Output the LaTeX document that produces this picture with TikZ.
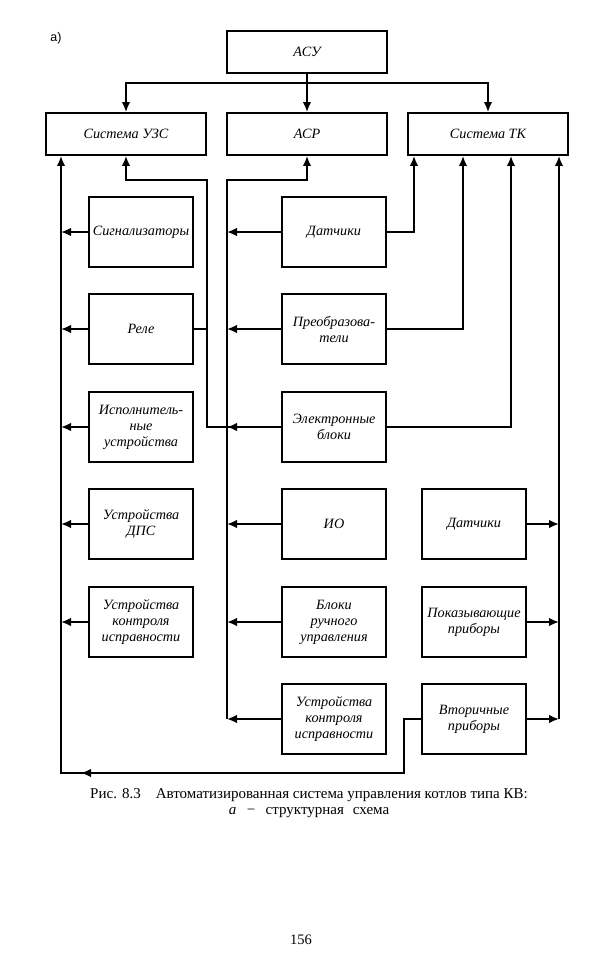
\documentclass[tikz,border=0pt]{standalone}
\usepackage{fontspec}
\setmainfont{Liberation Serif}
\newfontfamily\sansf{Liberation Sans}
\usetikzlibrary{arrows.meta}
\begin{document}
\begin{tikzpicture}[x=1pt,y=-1pt,
 box/.style={draw,line width=1.8pt,inner sep=1pt,align=center,font=\fontsize{14.2}{16}\selectfont\itshape},
 bl/.style={box,minimum width=104pt,minimum height=70pt},
 ln/.style={line width=1.8pt},
 arr/.style={ln,-{Latex[length=10pt,width=8.5pt]}}]
\useasboundingbox (0,0) rectangle (598,954);
% top row
\node[box,minimum width=160pt,minimum height=42pt] (asu) at (307,52) {АСУ};
\node[box,minimum width=160pt,minimum height=42pt] (uzs) at (126,134) {Система УЗС};
\node[box,minimum width=160pt,minimum height=42pt] (asr) at (307,134) {АСР};
\node[box,minimum width=160pt,minimum height=42pt] (tk) at (488,134) {Система ТК};
% left column
\node[bl] (sig) at (141,232) {Сигнализаторы};
\node[bl] (rele) at (141,329) {Реле};
\node[bl] (isp) at (141,427) {Исполнитель-\\ные\\устройства};
\node[bl] (dps) at (141,524) {Устройства\\ДПС};
\node[bl] (ukl) at (141,622) {Устройства\\контроля\\исправности};
% middle column
\node[bl] (dat) at (334,232) {Датчики};
\node[bl] (preo) at (334,329) {Преобразова-\\тели};
\node[bl] (eb) at (334,427) {Электронные\\блоки};
\node[bl] (io) at (334,524) {ИО};
\node[bl] (bru) at (334,622) {Блоки\\ручного\\управления};
\node[bl] (ukm) at (334,719) {Устройства\\контроля\\исправности};
% right column
\node[bl] (datr) at (474,524) {Датчики};
\node[bl] (pok) at (474,622) {Показывающие\\приборы};
\node[bl] (vtor) at (474,719) {Вторичные\\приборы};
% coordinates
\coordinate (bt) at (307,83);
\coordinate (lb) at (61,773);
\coordinate (lbm) at (81,773);
\coordinate (vt1) at (404,719);
\coordinate (vt2) at (404,773);
\coordinate (rv) at (207,180);
\coordinate (rv2) at (207,427);
\coordinate (mbt) at (227,180);
\coordinate (mbb) at (227,719);
\coordinate (t1) at (414,0);
\coordinate (t2) at (463,0);
\coordinate (t3) at (511,0);
\coordinate (rb) at (559,719);
% ASU distribution
\draw[arr] (asu.south) -- (asr.north);
\draw[arr] (bt) -| (uzs.north);
\draw[arr] (bt) -| (tk.north);
% left bus
\draw[arr] (vtor.west) -- (vt1) -- (vt2) -- (lb) -- (lb |- uzs.south);
\draw[arr] (vt2) -- (lbm);
\foreach \n in {sig,rele,isp,dps,ukl} \draw[arr] (\n.west) -- (\n.west -| lb);
% relay / electronic blocks to UZS
\draw[ln] (rele.east) -- (rele.east -| rv);
\draw[arr] (eb.west) -- (rv2) -- (rv) -| (uzs.south);
% middle bus
\draw[arr] (mbb) -- (mbt) -| (asr.south);
\foreach \n in {dat,preo,eb,io,bru,ukm} \draw[arr] (\n.west) -- (\n.west -| mbt);
% TK links
\draw[arr] (dat.east) -| (t1 |- tk.south);
\draw[arr] (preo.east) -| (t2 |- tk.south);
\draw[arr] (eb.east) -| (t3 |- tk.south);
\draw[arr] (rb) -- (rb |- tk.south);
\foreach \n in {datr,pok,vtor} \draw[arr] (\n.east) -- (\n.east -| rb);
% texts
\node[font=\sansf\fontsize{12.5}{14}\selectfont] (lab) at (56,38) {а)};
\node[align=center,font=\fontsize{15}{16}\selectfont] (cap) at (309,803) {Рис. 8.3\quad Автоматизированная система управления котлов типа КВ:\\ \textit{а}\hspace{0.7em}−\hspace{0.7em}структурная\hspace{0.6em}схема};
\node[font=\fontsize{14.5}{14}\selectfont] (pg) at (301,940) {156};
\end{tikzpicture}
\end{document}
